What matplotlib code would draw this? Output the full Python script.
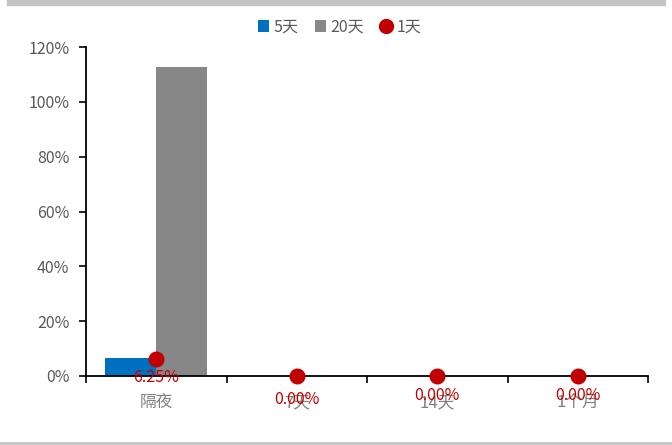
import matplotlib
matplotlib.use("Agg")
import matplotlib.pyplot as plt
import numpy as np
from matplotlib.ticker import FuncFormatter, FixedLocator

plt.rcParams['font.family'] = ['Noto Sans CJK SC', 'DejaVu Sans']

categories = ['隔夜', '7天', '14天', '1个月']
d5 = [6.5, 0.0, 0.0, 0.0]
d20 = [112.7, 0.0, 0.0, 0.0]
d1 = [6.25, 0.0, 0.0, 0.0]
label_offsets = [-19, -23, -20, -20]  # 数据标签相对点的位置(像素)

fig = plt.figure(figsize=(6.72, 4.45), dpi=100)
ax = fig.add_axes([86 / 672, 1 - 376 / 445, (648 - 86) / 672, (376 - 47) / 445])

x = np.arange(len(categories))
w = 0.363
b5 = ax.bar(x - w / 2, d5, w, color='#0070C0', label='5天', zorder=2)
b20 = ax.bar(x + w / 2, d20, w, color='#878787', label='20天', zorder=2)
p1, = ax.plot(x, d1, 'o', color='#C00000', markersize=10.5, label='1天', zorder=4, clip_on=False)

for xi, v, off in zip(x, d1, label_offsets):
    ax.annotate(f'{v:.2f}%', (xi, v), xytext=(0, off), textcoords='offset pixels',
                ha='center', va='center', color='#C00000', fontsize=11.5, zorder=5)

ax.set_xlim(-0.5, len(categories) - 0.5)
ax.set_ylim(0, 120)
ax.set_yticks(np.arange(0, 121, 20))
ax.yaxis.set_major_formatter(FuncFormatter(lambda v, p: f'{v:.0f}%'))
ax.set_xticks(x)
ax.set_xticklabels(categories)
ax.xaxis.set_minor_locator(FixedLocator(np.arange(-0.5, len(categories), 1)))
ax.tick_params(axis='x', which='major', length=0, pad=13, labelsize=12, labelcolor='#7F7F7F')
ax.tick_params(axis='x', which='minor', length=5, width=1.2, direction='out')
ax.tick_params(axis='y', length=5, width=1.2, labelsize=11.5, labelcolor='#595959', pad=7)

for s in ['top', 'right']:
    ax.spines[s].set_visible(False)
for s in ['left', 'bottom']:
    ax.spines[s].set_linewidth(1.3)
    ax.spines[s].set_zorder(3)

leg = fig.legend([b5, b20, p1], ['5天', '20天', '1天'], loc='center',
                 bbox_to_anchor=(0.505, 1 - 27 / 445), ncol=3, frameon=False,
                 fontsize=11.5, handlelength=0.7, handletextpad=0.3, columnspacing=1.0,
                 labelcolor='#595959')
for h in leg.legend_handles:
    try:
        h.set_markersize(10)
    except AttributeError:
        pass

# 顶部灰条与底部分隔线
fig.patches.append(plt.Rectangle((7 / 672, 1 - 5 / 445), 658 / 672, 5 / 445,
                                 transform=fig.transFigure, color='#C4C4C4', zorder=0))
fig.lines.append(plt.Line2D([0, 1], [1 - 443 / 445] * 2, transform=fig.transFigure,
                            color='#C4C4C4', linewidth=2))

fig.savefig('out.png', dpi=100)
